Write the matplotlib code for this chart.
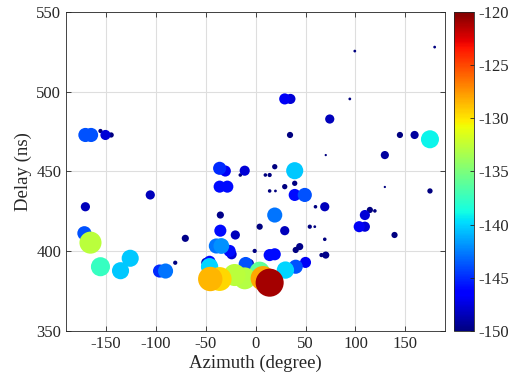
import matplotlib
matplotlib.use("Agg")
import matplotlib.pyplot as plt
import numpy as np

plt.rcParams["font.family"] = ["Liberation Serif", "DejaVu Serif"]
plt.rcParams["axes.unicode_minus"] = False

# multipath components: azimuth (deg), delay (ns), power (dB)
azimuth = [
    99.3, 179.3, 29.1, 34.8, 94.3, 74.2, 34.4, 144.5, 159.2, 174.6,
    -170.6, -164.9, -155.5, -150.5, -144.8, -36.1, -30.4, -36.1, -28.4, -11.0,
    -15.4, -105.6, -170.6, -171.6, -165.5, -70.5, -35.4, -35.4, -20.4, -39.4,
    -34.4, -26.1, -1.0, 4.0, -155.5, -125.7, -135.4, -96.3, -90.3, -80.6,
    19.1, 39.1, 9.7, 14.0, 39.1, 29.1, 14.0, 19.8, 39.1, 49.2,
    59.9, 69.2, 19.1, 29.1, 54.2, 59.2, 69.2, 19.1, 40.1, 44.1,
    70.2, 129.4, 174.6, 114.4, 109.4, 119.4, 103.7, 109.4, 139.1, 65.9,
    49.9, 40.1, 29.8, 7.3, 14.0, -45.5, -36.1, -21.1, -11.0, -46.2,
    -46.2, -10.0, 4.0, 14.0, -24.1, 129.4, 70.2, -6.0, -50.0,
]
delay = [
    525.5, 528.0, 495.5, 495.5, 495.5, 482.9, 472.9, 472.9, 472.9, 470.2,
    472.9, 472.9, 475.4, 472.9, 472.9, 452.0, 450.3, 440.5, 440.5, 450.5,
    447.8, 435.3, 427.9, 411.3, 405.4, 408.1, 422.7, 412.9, 410.2, 403.3,
    403.3, 400.2, 400.2, 415.4, 390.3, 395.6, 387.8, 387.6, 387.6, 392.8,
    453.0, 450.5, 447.8, 447.8, 442.6, 440.5, 437.8, 437.8, 435.3, 435.3,
    427.9, 427.9, 422.7, 412.9, 415.4, 415.4, 407.5, 398.1, 400.8, 402.9,
    397.6, 460.3, 437.8, 425.9, 422.7, 425.3, 415.4, 415.4, 410.2, 397.6,
    393.0, 390.3, 388.2, 383.0, 380.3, 382.6, 382.6, 385.1, 383.0, 390.3,
    393.4, 392.0, 387.2, 397.6, 398.1, 440.3, 460.3, 392.5, 393.0,
]
power = [
    -151.4, -151.4, -146.9, -147.7, -151.4, -148.4, -150.2, -150.2, -149.1, -139.0,
    -143.9, -143.9, -151.0, -147.7, -150.6, -145.0, -146.9, -146.0, -146.0, -147.7,
    -151.2, -148.4, -148.4, -143.9, -132.7, -149.7, -149.7, -146.0, -148.4, -142.8,
    -142.0, -146.0, -151.0, -150.2, -137.5, -140.3, -140.3, -145.0, -142.8, -151.0,
    -150.6, -140.3, -151.2, -151.0, -150.6, -150.6, -151.2, -151.4, -146.0, -143.9,
    -151.2, -148.4, -142.8, -148.4, -151.0, -151.4, -151.2, -146.0, -150.2, -149.7,
    -149.7, -149.1, -150.6, -150.2, -147.7, -151.2, -146.9, -147.7, -150.2, -151.0,
    -146.9, -143.9, -140.0, -128.0, -121.0, -128.5, -129.5, -132.7, -133.0, -140.0,
    -146.0, -143.9, -136.0, -146.0, -147.7, -151.5, -151.5, -149.0, -148.5,
]

az = np.array(azimuth)
dl = np.array(delay)
pw = np.array(power)
order = np.argsort(pw)  # stronger paths drawn on top

# marker area grows linearly with power
sizes = np.clip(13.3 * (pw + 151.7), 0.8, None)

fig = plt.figure(figsize=(5.13, 3.87), dpi=100)
ax = fig.add_axes([0.1287, 0.1447, 0.7394, 0.8243])
cax = fig.add_axes([0.8856, 0.1447, 0.0384, 0.8243])

sc = ax.scatter(az[order], dl[order], s=sizes[order], c=pw[order], cmap="jet",
                vmin=-150, vmax=-120, linewidths=0, zorder=3)

ax.set_xlim(-190, 190)
ax.set_ylim(350, 550)
ax.set_xticks([-150, -100, -50, 0, 50, 100, 150])
ax.set_yticks([350, 400, 450, 500, 550])
ax.grid(True, color="#dedede", linewidth=0.8, zorder=0)
ax.set_axisbelow(True)
ax.tick_params(direction="in", top=True, right=True, labelsize=12,
               length=3.5, width=0.6, color="#262626", labelcolor="#262626")
for sp in ax.spines.values():
    sp.set_color("#262626")
    sp.set_linewidth(0.6)
ax.set_xlabel("Azimuth (degree)", fontsize=13.5, color="#262626", labelpad=2)
ax.set_ylabel("Delay (ns)", fontsize=13.5, color="#262626", labelpad=3)

cb = fig.colorbar(sc, cax=cax)
cb.set_ticks([-150, -145, -140, -135, -130, -125, -120])
cb.ax.tick_params(direction="in", labelsize=12, length=3, width=0.6,
                  color="#262626", labelcolor="#262626")
cb.outline.set_linewidth(0.6)
cb.outline.set_edgecolor("#262626")

fig.savefig("out.png", dpi=100)
